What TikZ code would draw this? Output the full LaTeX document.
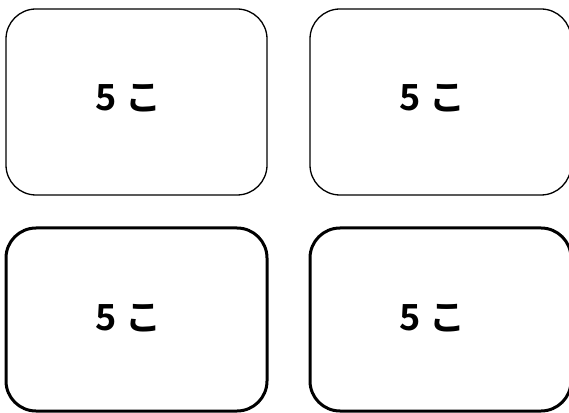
\documentclass[tikz,border=0pt]{standalone}
\usepackage{fontspec}
\setmainfont{Noto Sans CJK JP}[BoldFont={Noto Sans CJK JP Bold}]
\usetikzlibrary{positioning}

\begin{document}
\begin{tikzpicture}[
        x=1pt, y=1pt,
        card/.style={draw, rectangle, rounded corners=30pt, minimum width=261pt, minimum height=186pt, inner sep=0pt},
        thin_card/.style={card, line width=1.3pt},
        thick_card/.style={card, line width=3pt, minimum height=183pt},
        count_text/.style={font=\fontsize{36}{40}\selectfont\bfseries, inner sep=0pt}
        ]

        % Frame of the picture
        \useasboundingbox (0, 0) rectangle (569, 412);

        % Cards
        \node[thin_card] (CardTL) at (136.5, 310) {};
        \node[thin_card] (CardTR) at (440.5, 310) {};
        \node[thick_card] (CardBL) at (136.5, 92.5) {};
        \node[thick_card] (CardBR) at (440.5, 92.5) {};

        % Counts
        \node[count_text] (CountTL) at ([xshift=-8pt, yshift=4pt]CardTL.center) {5 こ};
        \node[count_text] (CountTR) at ([xshift=-8pt, yshift=4pt]CardTR.center) {5 こ};
        \node[count_text] (CountBL) at ([xshift=-8pt, yshift=1pt]CardBL.center) {5 こ};
        \node[count_text] (CountBR) at ([xshift=-8pt, yshift=1pt]CardBR.center) {5 こ};

    \end{tikzpicture}
\end{document}
